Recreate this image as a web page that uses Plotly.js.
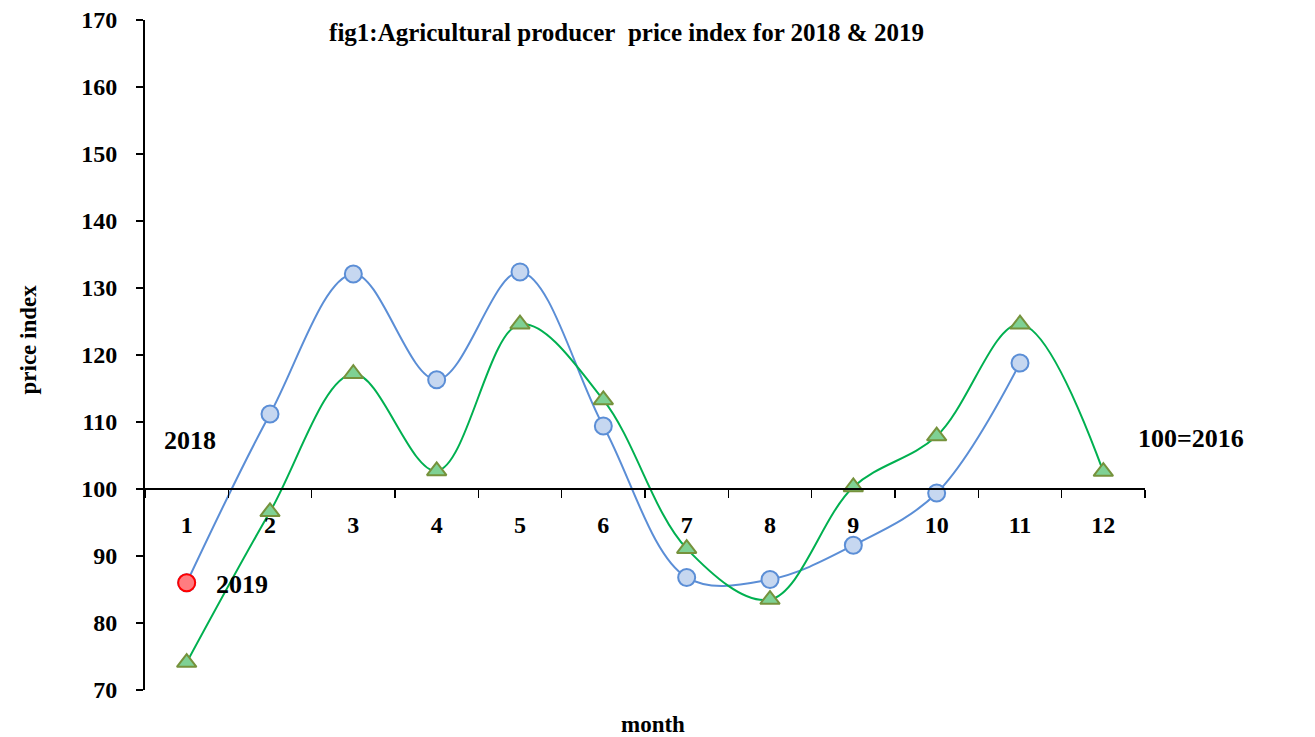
<!DOCTYPE html>
<html>
<head>
<meta charset="utf-8">
<script src="https://cdn.plot.ly/plotly-3.0.1.min.js"></script>
<style>html,body{margin:0;padding:0;background:#fff;}#chart{width:1315px;height:737px;}</style>
</head>
<body>
<div id="chart"></div>
<script>
var months = ["1","2","3","4","5","6","7","8","9","10","11","12"];
var series2019 = [86.0, 111.2, 132.1, 116.3, 132.4, 109.4, 86.8, 86.5, 91.6, 99.4, 118.8];
var series2018 = [74.1, 96.6, 117.2, 102.7, 124.6, 113.3, 91.1, 83.5, 100.3, 107.9, 124.6, 102.6];
var highlightMonth = ["1"];
var highlightValue = [86.0];
var yTicks = [70, 80, 90, 100, 110, 120, 130, 140, 150, 160, 170];

var serif = "Liberation Serif, Times New Roman, serif";

var traces = [
  {
    x: months.slice(0, series2019.length), y: series2019, name: "2019",
    type: "scatter", mode: "lines+markers",
    line: {color: "#5B8ED6", width: 2, shape: "spline", smoothing: 1},
    marker: {symbol: "circle", size: 17, color: "#C6D7F0", line: {color: "#5B8ED6", width: 2}}
  },
  {
    x: months, y: series2018, name: "2018",
    type: "scatter", mode: "lines+markers",
    line: {color: "#00B050", width: 2, shape: "spline", smoothing: 1},
    marker: {symbol: "triangle-up", size: 17, color: "#7FD194", line: {color: "#76923C", width: 2}}
  },
  {
    x: highlightMonth, y: highlightValue, name: "2019 start",
    type: "scatter", mode: "markers",
    marker: {symbol: "circle", size: 17, color: "#FF7C80", line: {color: "#FF0000", width: 2}}
  }
];

var layout = {
  width: 1315, height: 737,
  margin: {l: 145, r: 170, t: 20, b: 47},
  paper_bgcolor: "#fff", plot_bgcolor: "#fff",
  showlegend: false,
  hovermode: false,
  font: {family: serif, color: "#000", size: 22},
  title: {
    text: "<b>fig1:Agricultural producer\u00a0 price index for 2018 & 2019</b>",
    font: {family: serif, size: 25, color: "#000"},
    x: 0.4815, xref: "paper", xanchor: "center",
    y: 1 - 32/737, yref: "container", yanchor: "middle"
  },
  xaxis: {
    type: "category",
    categoryorder: "array", categoryarray: months,
    range: [-0.5, 11.5],
    anchor: "free", position: 0.3,
    showline: true, linecolor: "#000", linewidth: 2,
    showgrid: false, zeroline: false,
    ticks: "outside", ticklen: 8, tickwidth: 1.5, tickcolor: "#000",
    tickson: "boundaries",
    ticklabelstandoff: 14,
    tickfont: {family: serif, size: 24, color: "#000", weight: "bold"}
  },
  yaxis: {
    range: [70, 170],
    tickvals: yTicks,
    ticktext: yTicks.map(String),
    showline: true, linecolor: "#000", linewidth: 2,
    showgrid: false, zeroline: false,
    ticks: "outside", ticklen: 7, tickwidth: 1.5, tickcolor: "#000",
    ticklabelstandoff: 14,
    tickfont: {family: serif, size: 24, color: "#000", weight: "bold"}
  },
  annotations: [
    {text: "<b>price index</b>", x: (27.5 - 145) / 1000, y: (690 - 340) / 670, xref: "paper", yref: "paper",
     showarrow: false, textangle: -90, xanchor: "center", yanchor: "middle",
     font: {family: serif, size: 23, color: "#000"}},
    {text: "<b>2018</b>", x: 0.04, y: 107.2, xref: "x", yref: "y", showarrow: false,
     font: {family: serif, size: 26, color: "#000"}},
    {text: "<b>2019</b>", x: 0.664, y: 85.7, xref: "x", yref: "y", showarrow: false,
     font: {family: serif, size: 26, color: "#000"}},
    {text: "<b>100=2016</b>", x: 1.101, y: 0.376, xref: "paper", yref: "paper", showarrow: false,
     font: {family: serif, size: 26, color: "#000"}},
    {text: "<b>month</b>", x: 0.508, y: (690 - 724) / 670, xref: "paper", yref: "paper", showarrow: false,
     yanchor: "middle", font: {family: serif, size: 23, color: "#000"}}
  ]
};

Plotly.newPlot("chart", traces, layout, {displayModeBar: false, staticPlot: true});
</script>
</body>
</html>
